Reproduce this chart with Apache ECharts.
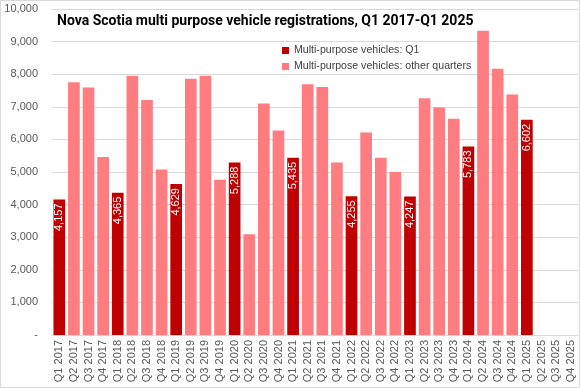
<!DOCTYPE html>
<html><head><meta charset="utf-8">
<script src="https://cdn.jsdelivr.net/npm/echarts@6/dist/echarts.min.js"></script>
<style>html,body{margin:0;padding:0;background:#fff}#c{width:580px;height:388px}</style>
</head><body><div id="c"></div>
<script>
const categories = ["Q1 2017","Q2 2017","Q3 2017","Q4 2017","Q1 2018","Q2 2018","Q3 2018","Q4 2018","Q1 2019","Q2 2019","Q3 2019","Q4 2019","Q1 2020","Q2 2020","Q3 2020","Q4 2020","Q1 2021","Q2 2021","Q3 2021","Q4 2021","Q1 2022","Q2 2022","Q3 2022","Q4 2022","Q1 2023","Q2 2023","Q3 2023","Q4 2023","Q1 2024","Q2 2024","Q3 2024","Q4 2024","Q1 2025","Q2 2025","Q3 2025","Q4 2025"];
const q1Values = [4157,null,null,null,4365,null,null,null,4629,null,null,null,5288,null,null,null,5435,null,null,null,4255,null,null,null,4247,null,null,null,5783,null,null,null,6602,null,null,null];
const otherValues = [null,7750,7590,5460,null,7950,7210,5080,null,7860,7950,4760,null,3090,7100,6270,null,7690,7610,5290,null,6210,5440,5000,null,7260,6980,6630,null,9330,8170,7380,null,null,null,null];
const yTicks = [0,1000,2000,3000,4000,5000,6000,7000,8000,9000,10000];

const fmt = v => v === 0 ? '-' : v.toLocaleString('en-US');
const chart = echarts.init(document.getElementById('c'), null, {renderer:'canvas'});
chart.setOption({
  animation:false,
  backgroundColor:'#fff',
  title:{text:'Nova Scotia multi purpose vehicle registrations, Q1 2017-Q1 2025', left:52, top:9,
    textStyle:{fontFamily:'Roboto', fontWeight:'bold', fontSize:14, color:'#000'}},
  legend:{orient:'vertical', left:277, top:40, itemWidth:7, itemHeight:7, itemGap:5,
    textStyle:{fontFamily:'Liberation Sans', fontSize:10.6, color:'#404040'},
    data:[{name:'Multi-purpose vehicles: Q1', icon:'rect'},{name:'Multi-purpose vehicles: other quarters', icon:'rect'}]},
  grid:{left:52, right:2, top:9, bottom:53, containLabel:false},
  xAxis:{type:'category', data:categories,
    axisLine:{lineStyle:{color:'#d9d9d9'}}, axisTick:{show:false},
    axisLabel:{rotate:90, interval:0, fontFamily:'Liberation Sans', fontSize:11, color:'#595959', margin:5}},
  yAxis:{type:'value', min:0, max:10000, interval:1000,
    axisLine:{show:false}, axisTick:{show:false},
    splitLine:{lineStyle:{color:'#d9d9d9'}},
    axisLabel:{formatter: v => yTicks.includes(v) ? fmt(v) : '', fontFamily:'Liberation Sans', fontSize:11, color:'#595959', margin:14}},
  series:[
    {name:'Multi-purpose vehicles: Q1', type:'bar', data:q1Values, barWidth:'80%', barGap:'-100%',
      itemStyle:{color:'#C00000'},
      label:{show:true, position:'insideTop', rotate:90, align:'right', verticalAlign:'middle', distance:4,
        formatter: p => p.value==null?'':fmt(p.value), color:'#fff', fontFamily:'Liberation Sans', fontSize:11}},
    {name:'Multi-purpose vehicles: other quarters', type:'bar', data:otherValues, barWidth:'80%', barGap:'-100%',
      itemStyle:{color:'#FF7C80'}}
  ],
  graphic:[{type:'rect', shape:{x:0.5,y:0.5,width:579,height:387}, style:{fill:null, stroke:'#d9d9d9', lineWidth:1}, silent:true}]
});
</script></body></html>
